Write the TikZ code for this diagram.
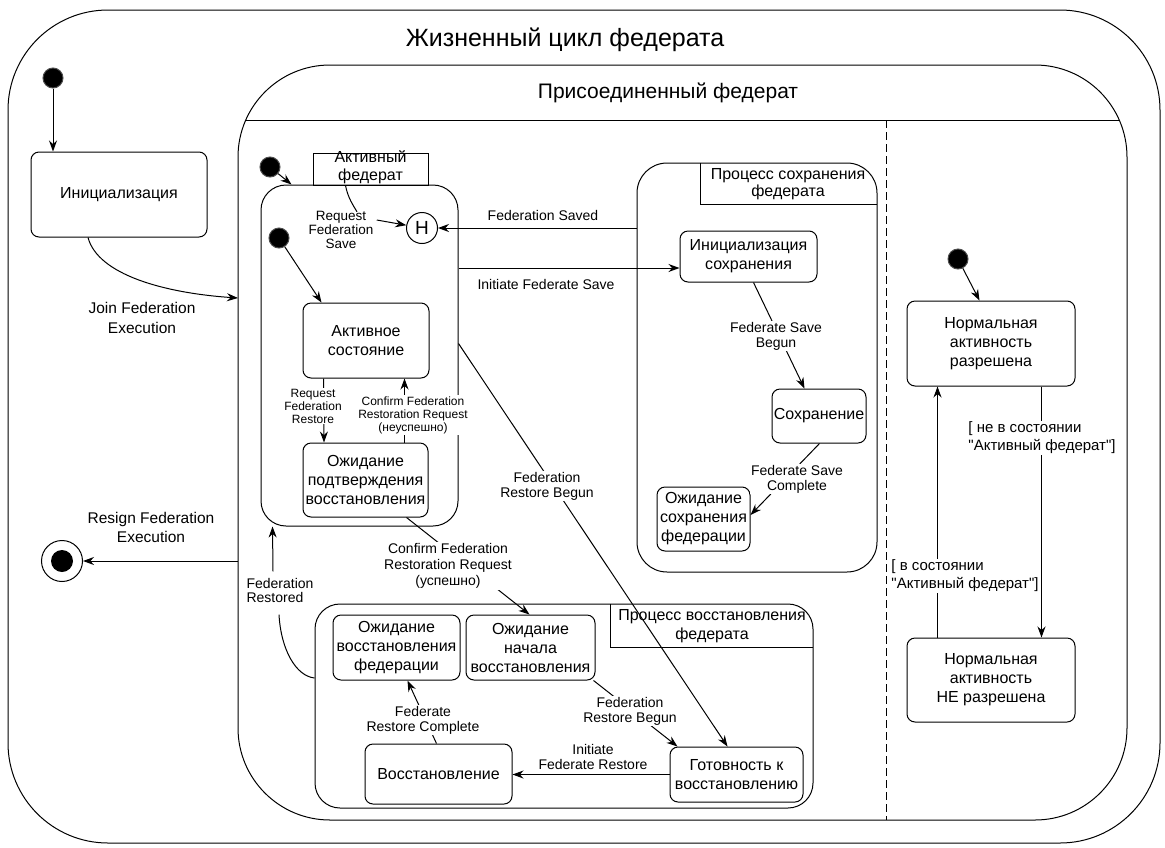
\documentclass[tikz,border=0pt]{standalone}
\usepackage{fontspec}
\setmainfont{Liberation Sans}
% same face without TeX quote ligatures, so that " stays a straight quote
\newfontfamily\plainsans{Liberation Sans}
\usetikzlibrary{arrows.meta,calc}

\begin{document}
\begin{tikzpicture}[x=1pt,y=-1pt,line width=1pt,
  arr/.style={-{Stealth[length=11pt,width=8pt]}},
  state/.style={draw,rounded corners=8pt,align=center,inner sep=0pt,font=\fontsize{16}{19}\selectfont},
  region/.style={draw,inner sep=0pt},
  tlabel/.style={align=center,font=\fontsize{14}{15}\selectfont,inner sep=1pt},
  small/.style={align=center,font=\fontsize{12}{13}\selectfont,inner sep=1pt},
  guard/.style={align=left,font=\plainsans\fontsize{15}{18}\selectfont,inner sep=1pt,fill=white},
  blank/.style={fill=white},
  start/.style={circle,fill=black,draw=black!70,minimum size=20pt,inner sep=0pt},
]
\useasboundingbox (0,0) rectangle (1165,847);

% --- containers ---
\node[region,rounded corners=100pt,minimum width=1152pt,minimum height=833pt] (life) at (584,426.5) {};
\node[font=\fontsize{25}{30}\selectfont] (ttl) at (565,40) {Жизненный цикл федерата};

\node[region,rounded corners=92pt,minimum width=889pt,minimum height=755pt] (joined) at (682.5,442.5) {};
\begin{scope}
  \clip[rounded corners=92pt] (238,65) rectangle (1127,820);
  \draw (238,120) -- (1127,120);
\end{scope}
\node[font=\fontsize{21}{25}\selectfont] (ttl2) at (668,93) {Присоединенный федерат};
\draw[dash pattern=on 8pt off 4pt] (886,120) -- (886,820);

% active federate composite state with its name tab
\node[region,rounded corners=25pt,minimum width=197pt,minimum height=341pt] (actc) at (359.5,355.5) {};
\node[region,minimum width=115pt,minimum height=32pt] (actTab) at (370.5,169) {};
\node[font=\fontsize{16}{18}\selectfont,align=center,inner sep=0pt] (actTabTxt) at (370.5,167) {Активный\\федерат};

% save process composite
\node[region,rounded corners=30pt,minimum width=240pt,minimum height=409pt] (savec) at (757,367.5) {};
\draw (700,163) |- (877,204);
\node[font=\fontsize{16}{17}\selectfont,align=center,inner sep=0pt] (saveTab) at (788,184) {Процесс сохранения\\федерата};

% restore process composite
\node[region,rounded corners=25pt,minimum width=498pt,minimum height=204pt] (restc) at (564,706) {};
\draw (610,604) |- (813,647);
\node[font=\fontsize{16}{19}\selectfont,align=center,inner sep=0pt] (restTab) at (712,626) {Процесс восстановления\\федерата};

% --- states ---
\node[state,minimum width=176pt,minimum height=85pt] (init) at (119,194.5) {Инициализация};
\node[state,minimum width=126pt,minimum height=75pt] (act) at (366,340.5) {Активное\\состояние};
\node[state,minimum width=125pt,minimum height=74pt] (waitConf) at (365.5,480) {Ожидание\\подтверждения\\восстановления};
\node[state,minimum width=137pt,minimum height=51pt] (initSave) at (748.5,256.5) {Инициализация\\сохранения};
\node[state,minimum width=94pt,minimum height=54pt] (save) at (819,416) {Сохранение};
\node[state,minimum width=93pt,minimum height=64pt] (waitSave) at (703.5,519) {Ожидание\\сохранения\\федерации};
\node[state,minimum width=127pt,minimum height=65pt] (waitFedRest) at (396.5,647.5) {Ожидание\\восстановления\\федерации};
\node[state,minimum width=129pt,minimum height=65pt] (waitBegin) at (530.5,647.5) {Ожидание\\начала\\восстановления};
\node[state,minimum width=147pt,minimum height=60pt] (restoring) at (438.5,774) {Восстановление};
\node[state,minimum width=133pt,minimum height=55pt] (ready) at (736.5,774.5) {Готовность к\\восстановлению};
\node[state,minimum width=168pt,minimum height=85pt] (normOn) at (991,343.5) {Нормальная\\активность\\разрешена};
\node[state,minimum width=168pt,minimum height=84pt] (normOff) at (991,680) {Нормальная\\активность\\НЕ разрешена};

% --- pseudostates ---
\node[start] (s0) at (53,78) {};
\node[start] (s1) at (270,167) {};
\node[start] (s2) at (279,238) {};
\node[start] (s3) at (958,259) {};
\node[circle,draw,minimum size=41pt,inner sep=0pt] (fin) at (62,561) {};
\node[circle,fill=black,minimum size=22pt,inner sep=0pt] (finDot) at (fin.center) {};
\node[circle,draw,minimum size=31pt,inner sep=0pt,font=\fontsize{19}{19}\selectfont] (H) at (422,228) {H};

% --- outer lifecycle transitions ---
\draw[arr] (s0) -- (s0 |- init.north);
\coordinate (joinIn) at (238,298);
\draw[arr] ($(init.south)+(-31,0)$) .. controls (98,275) and (165,293) .. (joinIn);
\node[font=\fontsize{15.5}{20}\selectfont,align=center] (lJoin) at (142,318) {Join Federation\\Execution};
\coordinate (resignOut) at (238,561);
\draw[arr] (resignOut) -- (fin);
\node[font=\fontsize{15.5}{19}\selectfont,align=center] (lResign) at (151,527) {Resign Federation\\Execution};

% --- inside the active federate ---
\draw[arr] (s1) -- ($(actc.north west)+(31,0)$);
\draw[arr] (s2) -- ($(act.north west)+(19,0)$);

\node[align=center,font=\fontsize{13.5}{14}\selectfont,inner sep=1pt] (lRFS) at (341,230) {Request\\Federation\\Save};
\draw ($(actTab.south west)+(33,0)$) .. controls (348,198) and (353,205) .. ($(lRFS.north)+(16,2)$);
\draw[arr] ($(lRFS.east)+(2,-10)$) -- (H);

\draw[arr] ($(act.south west)+(21,0)$) -- ($(waitConf.north west)+(21.5,0)$);
\node[small,blank] (lRFR) at (313,406) {Request\\Federation\\Restore};
\draw[arr] ($(waitConf.north west)+(102,0)$) -- ($(act.south west)+(102,0)$);
\node[small,blank] (lCnf) at (413,415) {Confirm Federation\\Restoration Request\\(неуспешно)};

% --- save process ---
\draw[arr] (savec.west |- H) -- (H);
\node[tlabel] (lFS) at (543,215) {Federation Saved};
\coordinate (isIn) at ($(initSave.west)+(0,11.5)$);
\draw[arr] (isIn -| actc.east) -- (isIn);
\node[tlabel] (lIFS) at (546,284) {Initiate Federate Save};

\draw[arr] ($(initSave.south west)+(74,0)$) -- ($(save.north west)+(33,0)$);
\node[tlabel,blank] (lFSB) at (776,336) {Federate Save\\Begun};
\draw[arr] ($(save.south west)+(48,0)$) -- ($(waitSave.east)+(0,-4)$);
\node[tlabel,blank] (lFSC) at (797,479) {Federate Save\\Complete};

% --- restore process ---
\coordinate (frbOut) at ($(actc.east)+(0,-12)$);
\draw[arr] (frbOut) -- ($(ready.north west)+(58,0)$);
\node[tlabel,blank] (lFRB) at (547,486) {Federation\\Restore Begun};

\draw[arr] ($(waitConf.south west)+(104,0)$) -- ($(waitBegin.north west)+(64,0)$);
\node[align=center,font=\fontsize{14}{16}\selectfont,inner sep=1pt,fill=white] (lCok) at (448,566) {Confirm Federation\\Restoration Request\\(успешно)};

\node[align=left,font=\fontsize{14}{14}\selectfont,inner sep=1pt] (lFR) at (280,590) {Federation\\Restored};
\draw ($(restc.west)+(0,-28)$) .. controls (296,676) and (281,650) .. ($(lFR.south)+(-1,11)$);
\draw[arr] ($(lFR.north)+(-7,-5)$) -- ($(actc.south west)+(12,0)$);

\draw[arr] ($(restoring.north west)+(72,0)$) -- ($(waitFedRest.south west)+(75,0)$);
\node[tlabel,blank] (lFRC) at (423,720) {Federate\\Restore Complete};
\draw[arr] ($(waitBegin.south east)+(-2,0)$) -- ($(ready.north west)+(8,0)$);
\node[tlabel,blank] (lFRB2) at (630,711) {Federation\\Restore Begun};
\draw[arr] (ready.west) -- (ready.west -| restoring.east);
\node[tlabel] (lIFR) at (593,757) {Initiate\\Federate Restore};

% --- activity permission region ---
\draw[arr] (s3) -- ($(normOn.north west)+(73,0)$);
\draw[arr] ($(normOff.north west)+(31,0)$) -- ($(normOn.south west)+(31,0)$);
\node[guard] (gIn) at (965,576) {[ в состоянии\\"Активный федерат"]};
\draw[arr] ($(normOn.south west)+(135,0)$) -- ($(normOff.north west)+(135,0)$);
\node[guard] (gOut) at (1042,438) {[ не в состоянии\\"Активный федерат"]};
\end{tikzpicture}
\end{document}
